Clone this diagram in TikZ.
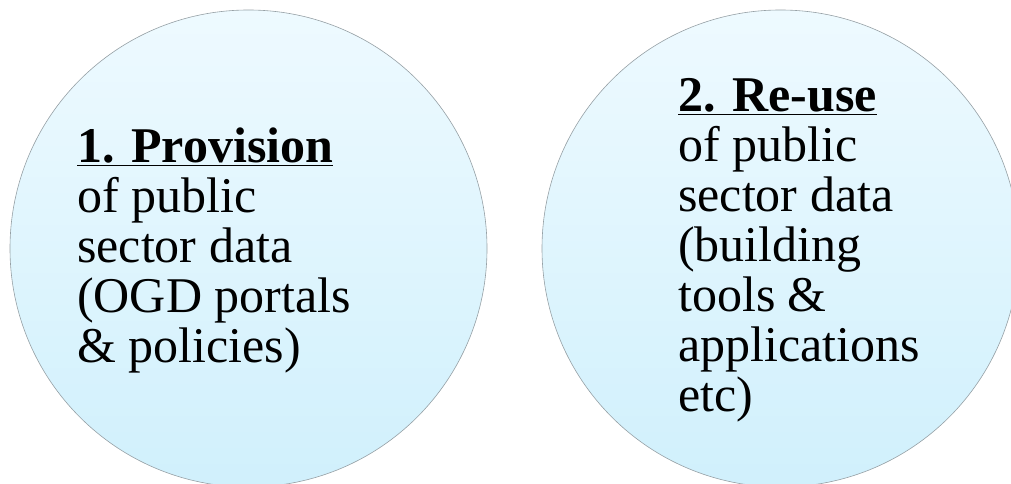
\documentclass[tikz,border=0pt]{standalone}
\usepackage{fontspec}
\setmainfont{Liberation Serif}
\definecolor{bluetop}{RGB}{238,250,255}
\definecolor{bluebot}{RGB}{208,240,252}
\definecolor{rimgray}{RGB}{150,160,165}
\begin{document}
\begin{tikzpicture}[x=1pt,y=1pt,
  bubble/.style={circle, minimum size=477pt, draw=rimgray, line width=0.6pt,
    top color=bluetop, bottom color=bluebot, inner sep=0pt},
  bubbletext/.style={align=left, font=\fontsize{50}{50}\selectfont,
    inner sep=0pt, anchor=base west}]
\useasboundingbox (0,0) rectangle (1011,484);
\clip (0,0) rectangle (1011,484);
\node[bubble] (c1) at (248.5,235.5) {};
\node[bubble] (c2) at (780.5,235.5) {};
\node[bubbletext] (t1) at (77,121)
  {\textbf{\underline{1. Provision}}\\of public\\sector data\\(OGD portals\\\& policies)};
\node[bubbletext] (t2) at (678,72)
  {\textbf{\underline{2. Re-use}}\\of public\\sector data\\(building\\tools \&\\applications\\etc)};
\end{tikzpicture}
\end{document}
